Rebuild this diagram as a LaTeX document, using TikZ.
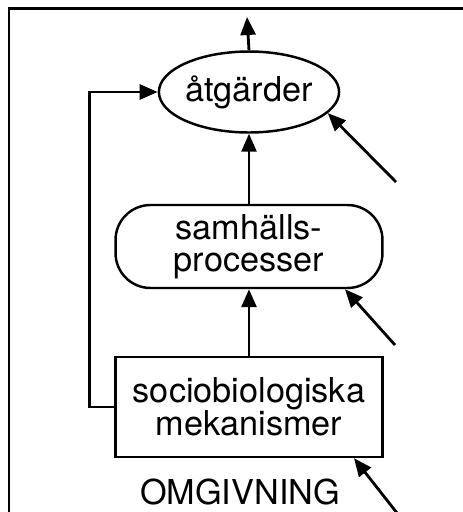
\documentclass[tikz,border=0pt]{standalone}
\usepackage{fontspec}
\setmainfont{TeX Gyre Heros}
\usetikzlibrary{shapes.geometric,arrows.meta}
\begin{document}
\begin{tikzpicture}[x=0.02cm,y=-0.02cm,line width=1.6pt,
  >={Triangle[length=0.36cm,width=0.3cm]},
  txt/.style={font=\fontsize{19.5}{18.5}\selectfont,align=center,inner sep=0pt},
  box/.style={txt,draw,line width=1.4pt}]
  \useasboundingbox(0,0) rectangle (463,512);
  \draw[line width=1.7pt](9,512) -- (9,8) -- (463,8);
  \node[box,ellipse,minimum width=3.3cm,minimum height=1.62cm](act) at (249,92){åtgärder};
  \node[box,rounded corners=0.7cm,minimum width=5.34cm,minimum height=1.66cm](proc) at (249,246.5){samhälls-\\processer};
  \node[box,minimum width=5.34cm,minimum height=2cm](mech) at (249,407){sociobiologiska\\mekanismer};
  \node[txt](env) at (240,492){OMGIVNING};
  \coordinate(out) at (247,17);
  \coordinate(in1) at (396,182);
  \coordinate(in2) at (395,345);
  \coordinate(in3) at (397,513);
  \draw[->](act.north) -- (out);
  \draw[->](proc.north) -- (act.south);
  \draw[->](mech.north) -- (proc.south);
  \draw[->](mech.west) -- ++(-25,0) |- (act.west);
  \draw[->](in1) -- (act.-15);
  \draw[->](in2) -- (proc.-24.5);
  \draw[->](in3) -- (mech.-26);
\end{tikzpicture}
\end{document}
